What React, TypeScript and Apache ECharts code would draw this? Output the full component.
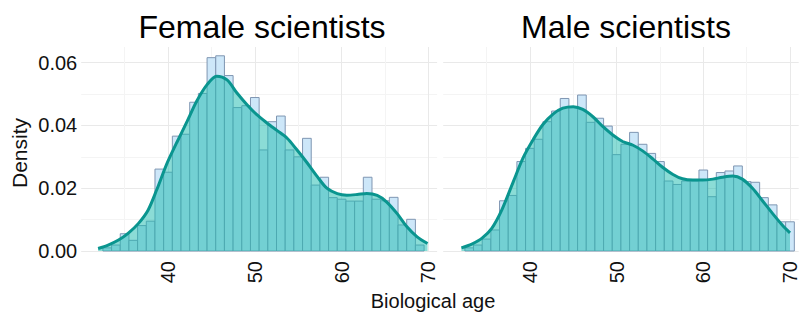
import React, { useEffect, useRef } from "react";
import * as echarts from "echarts";

// ---- Data ----
const FEMALE_BIN_CENTERS = [33, 34, 35, 36, 37, 38, 39, 40, 41, 42, 43, 44, 45, 46, 47, 48, 49, 50, 51, 52, 53, 54, 55, 56, 57, 58, 59, 60, 61, 62, 63, 64, 65, 66, 67, 68, 69];
const FEMALE_HIST = [0.001, 0.0019, 0.0055, 0.0034, 0.0081, 0.0095, 0.0261, 0.0251, 0.0366, 0.0372, 0.0474, 0.0502, 0.0616, 0.0622, 0.0559, 0.0457, 0.0463, 0.0489, 0.0322, 0.0412, 0.043, 0.0322, 0.03, 0.0359, 0.021, 0.0235, 0.017, 0.0165, 0.0159, 0.0159, 0.0235, 0.0165, 0.016, 0.0171, 0.0083, 0.0101, 0.0019];

const MALE_BIN_CENTERS = [33, 34, 35, 36, 37, 38, 39, 40, 41, 42, 43, 44, 45, 46, 47, 48, 49, 50, 51, 52, 53, 54, 55, 56, 57, 58, 59, 60, 61, 62, 63, 64, 65, 66, 67, 68, 69, 70];
const MALE_HIST = [0.001, 0.0019, 0.0038, 0.0067, 0.016, 0.0177, 0.0285, 0.0327, 0.0356, 0.0412, 0.0446, 0.0486, 0.046, 0.0497, 0.041, 0.0423, 0.0398, 0.0307, 0.034, 0.0378, 0.034, 0.0311, 0.0285, 0.0223, 0.0212, 0.0223, 0.0223, 0.0258, 0.0173, 0.025, 0.0255, 0.0271, 0.0221, 0.0219, 0.017, 0.0147, 0.0093, 0.0093];

const FEMALE_DENS_AGE = [31.95, 33.1, 34.3, 35.4, 36.6, 37.7, 38.7, 39.85, 41.0, 42.2, 43.3, 44.5, 45.6, 46.8, 47.9, 49.1, 50.2, 51.4, 52.5, 53.7, 54.8, 56.0, 57.2, 58.3, 59.5, 60.6, 61.8, 62.9, 64.1, 65.2, 66.4, 67.5, 68.7, 69.9];
const FEMALE_DENS = [0.0008, 0.0019, 0.0035, 0.0056, 0.0088, 0.013, 0.0195, 0.0277, 0.0345, 0.0413, 0.0477, 0.053, 0.0557, 0.0545, 0.0505, 0.0466, 0.0435, 0.0408, 0.0385, 0.036, 0.0324, 0.0282, 0.0237, 0.0200, 0.0183, 0.0178, 0.018, 0.0183, 0.0177, 0.0156, 0.0119, 0.0078, 0.0045, 0.0024];

const MALE_DENS_AGE = [32.1, 33.3, 34.45, 35.6, 36.75, 38.1, 39.2, 40.4, 41.5, 42.7, 43.8, 45.0, 46.1, 47.3, 48.4, 49.6, 50.7, 51.9, 53.0, 54.2, 55.3, 56.5, 57.6, 58.8, 59.9, 61.1, 62.2, 63.4, 64.5, 65.7, 66.8, 68.0, 69.1, 70.0];
const MALE_DENS = [0.001, 0.0022, 0.004, 0.0072, 0.013, 0.0222, 0.0296, 0.0356, 0.0403, 0.0437, 0.0455, 0.046, 0.0451, 0.0427, 0.0397, 0.0369, 0.0349, 0.0337, 0.0319, 0.0293, 0.0267, 0.0244, 0.0230, 0.0226, 0.0226, 0.0229, 0.0235, 0.0239, 0.0229, 0.0199, 0.0161, 0.0119, 0.0083, 0.0058];

const PANEL_TITLES = ["Female scientists", "Male scientists"];
const X_TICKS = [40, 50, 60, 70];
const Y_TICKS = [0, 0.02, 0.04, 0.06];
const BIN_WIDTH = 1;

const FONT = "'Liberation Sans', Arial, Helvetica, sans-serif";
const MAJOR = "#e9e9e9";
const MINOR = "#f4f4f4";

export default function App() {
  const ref = useRef<HTMLDivElement>(null);

  useEffect(() => {
    if (!ref.current) return;
    const chart = echarts.init(ref.current, undefined, { renderer: "svg" });

    const histData = (centers: number[], vals: number[]) =>
      centers.map((c, i) => [c - BIN_WIDTH / 2, c + BIN_WIDTH / 2, vals[i]]);
    const densData = (ages: number[], vals: number[]) => ages.map((a, i) => [a, vals[i]]);

    const grids = [
      { left: 81.2, top: 47, width: 355.9, height: 204 },
      { left: 443.2, top: 47, width: 355.9, height: 204 },
    ];

    const xAxis = grids.map((_, i) => ({
      gridIndex: i,
      type: "value",
      min: 30,
      max: 71,
      interval: 5,
      axisLine: { show: false },
      axisTick: { show: false },
      axisLabel: {
        rotate: 90,
        fontSize: 20,
        fontFamily: FONT,
        color: "#111",
        margin: 10,
        formatter: (v: number) => (X_TICKS.includes(v) ? String(v) : ""),
      },
      splitLine: {
        show: true,
        showMinLine: false,
        showMaxLine: false,
        lineStyle: { color: [MINOR, MAJOR], width: 1 },
      },
    }));

    const yAxis = grids.map((_, i) => ({
      gridIndex: i,
      type: "value",
      min: 0,
      max: 0.065,
      interval: 0.01,
      axisLine: { show: false },
      axisTick: { show: false },
      axisLabel: {
        show: i === 0,
        fontSize: 20,
        fontFamily: FONT,
        color: "#111",
        margin: 4,
        formatter: (v: number) =>
          Y_TICKS.some((t) => Math.abs(t - v) < 1e-9) ? v.toFixed(2) : "",
      },
      splitLine: {
        show: true,
        showMaxLine: false,
        lineStyle: { color: [MAJOR, MINOR], width: 1 },
      },
    }));

    const renderBar = (params: any, api: any) => {
      const s = api.value(0);
      const e = api.value(1);
      const v = api.value(2);
      const p0 = api.coord([s, v]);
      const p1 = api.coord([e, 0]);
      return {
        type: "rect",
        shape: { x: p0[0], y: p0[1], width: p1[0] - p0[0], height: p1[1] - p0[1] },
        style: { fill: "#cde7f9", stroke: "#7f96b2", lineWidth: 1 },
      };
    };

    const hists = [
      histData(FEMALE_BIN_CENTERS, FEMALE_HIST),
      histData(MALE_BIN_CENTERS, MALE_HIST),
    ];
    const dens = [
      densData(FEMALE_DENS_AGE, FEMALE_DENS),
      densData(MALE_DENS_AGE, MALE_DENS),
    ];

    const series: any[] = [];
    [0, 1].forEach((i) => {
      series.push({
        type: "custom",
        xAxisIndex: i,
        yAxisIndex: i,
        renderItem: renderBar,
        encode: { x: [0, 1], y: 2 },
        data: hists[i],
        z: 1,
        silent: true,
      });
      series.push({
        type: "line",
        xAxisIndex: i,
        yAxisIndex: i,
        data: dens[i],
        smooth: 0.3,
        showSymbol: false,
        symbol: "none",
        lineStyle: { color: "#0a958f", width: 3 },
        areaStyle: { color: "rgba(30,188,176,0.74)", origin: "start" },
        z: 2,
        silent: true,
      });
    });

    const textStyle = (text: string, fontSize: number, fill: string) => ({
      text,
      fontSize,
      fontFamily: FONT,
      fill,
      align: "center",
      verticalAlign: "middle",
      textAlign: "center",
      textVerticalAlign: "middle",
    });

    const graphic: any[] = [
      { type: "text", x: 262, y: 27, style: textStyle(PANEL_TITLES[0], 32, "#000") },
      { type: "text", x: 626, y: 27, style: textStyle(PANEL_TITLES[1], 32, "#000") },
      { type: "text", x: 19, y: 153, rotation: Math.PI / 2, style: textStyle("Density", 21, "#111") },
      { type: "text", x: 433, y: 301, style: textStyle("Biological age", 20, "#111") },
    ];

    chart.setOption({
      animation: false,
      backgroundColor: "#ffffff",
      grid: grids,
      xAxis,
      yAxis,
      series,
      graphic,
    });

    return () => chart.dispose();
  }, []);

  return (
    <div
      ref={ref}
      style={{ position: "absolute", left: 0, top: 0, width: 800, height: 312 }}
    />
  );
}
